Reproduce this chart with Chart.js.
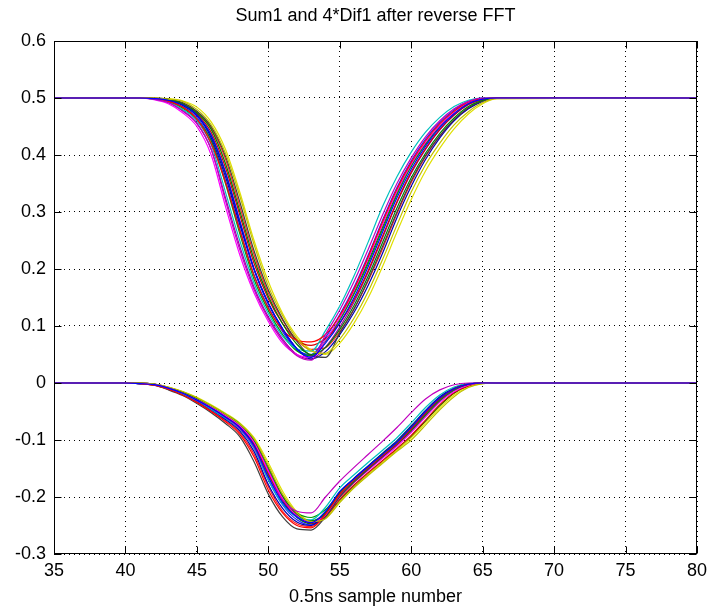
<!DOCTYPE html>
<html>
<head>
<meta charset="utf-8">
<script src="https://cdn.jsdelivr.net/npm/chart.js@4.4.0/dist/chart.umd.min.js"></script>
<style>
html, body { margin: 0; padding: 0; background: #fff; }
</style>
</head>
<body>
<canvas id="chart" width="714" height="613"></canvas>
<script>
// sample numbers the runs are given at (flat parts only need their ends)
const sampleNumbers = [35, 40, 41, 42, 43, 44, 45, 46, 47, 48, 49, 50, 51, 52, 53, 54, 55, 56, 57, 58, 59, 60, 61, 62, 63, 64, 65, 66, 80];

// Sum1 runs
const sum1_01 = [0.5, 0.5, 0.5, 0.499, 0.496, 0.488, 0.47, 0.435, 0.37, 0.285, 0.2, 0.14, 0.095, 0.06, 0.045, 0.07, 0.105, 0.15, 0.205, 0.265, 0.325, 0.375, 0.415, 0.448, 0.472, 0.49, 0.498, 0.5, 0.5];
const sum1_02 = [0.5, 0.5, 0.5, 0.498, 0.492, 0.477, 0.455, 0.41, 0.32, 0.234, 0.164, 0.113, 0.074, 0.048, 0.04, 0.085, 0.128, 0.178, 0.235, 0.295, 0.35, 0.395, 0.432, 0.46, 0.481, 0.494, 0.5, 0.5, 0.5];
const sum1_03 = [0.5, 0.5, 0.5, 0.5, 0.498, 0.494, 0.48, 0.453, 0.403, 0.328, 0.243, 0.17, 0.118, 0.078, 0.056, 0.052, 0.077, 0.114, 0.161, 0.217, 0.277, 0.335, 0.383, 0.421, 0.453, 0.476, 0.492, 0.499, 0.5];
const sum1_04 = [0.5, 0.5, 0.5, 0.499, 0.494, 0.484, 0.463, 0.42, 0.352, 0.268, 0.188, 0.131, 0.093, 0.075, 0.072, 0.085, 0.118, 0.165, 0.222, 0.283, 0.34, 0.387, 0.425, 0.455, 0.477, 0.493, 0.499, 0.5, 0.5];
const sum1_05 = [0.5, 0.5, 0.5, 0.499, 0.497, 0.49, 0.474, 0.445, 0.385, 0.302, 0.217, 0.152, 0.104, 0.068, 0.05, 0.062, 0.094, 0.136, 0.188, 0.247, 0.307, 0.36, 0.403, 0.438, 0.465, 0.485, 0.496, 0.5, 0.5];
const sum1_06 = [0.5, 0.5, 0.5, 0.498, 0.493, 0.48, 0.46, 0.418, 0.335, 0.25, 0.175, 0.122, 0.082, 0.06, 0.056, 0.092, 0.135, 0.188, 0.248, 0.31, 0.362, 0.405, 0.44, 0.466, 0.485, 0.496, 0.5, 0.5, 0.5];
const sum1_07 = [0.5, 0.5, 0.5, 0.5, 0.498, 0.492, 0.477, 0.45, 0.398, 0.318, 0.232, 0.163, 0.112, 0.073, 0.048, 0.045, 0.088, 0.13, 0.182, 0.24, 0.3, 0.355, 0.399, 0.434, 0.462, 0.483, 0.495, 0.5, 0.5];
const sum1_08 = [0.5, 0.5, 0.5, 0.497, 0.49, 0.474, 0.45, 0.4, 0.31, 0.225, 0.158, 0.108, 0.07, 0.05, 0.045, 0.075, 0.114, 0.162, 0.218, 0.278, 0.336, 0.384, 0.422, 0.452, 0.475, 0.492, 0.499, 0.5, 0.5];
const sum1_09 = [0.5, 0.5, 0.5, 0.499, 0.496, 0.488, 0.47, 0.43, 0.362, 0.278, 0.2, 0.14, 0.095, 0.06, 0.042, 0.055, 0.085, 0.124, 0.172, 0.228, 0.29, 0.345, 0.392, 0.43, 0.46, 0.481, 0.494, 0.5, 0.5];
const sum1_10 = [0.5, 0.5, 0.5, 0.499, 0.497, 0.489, 0.472, 0.44, 0.378, 0.295, 0.21, 0.148, 0.104, 0.075, 0.066, 0.078, 0.105, 0.146, 0.198, 0.258, 0.318, 0.37, 0.411, 0.445, 0.47, 0.489, 0.497, 0.5, 0.5];
const sum1_11 = [0.5, 0.5, 0.5, 0.498, 0.494, 0.482, 0.462, 0.425, 0.35, 0.262, 0.182, 0.127, 0.085, 0.056, 0.048, 0.073, 0.11, 0.156, 0.21, 0.27, 0.33, 0.38, 0.418, 0.45, 0.474, 0.491, 0.499, 0.5, 0.5];
const sum1_12 = [0.5, 0.5, 0.5, 0.5, 0.499, 0.495, 0.484, 0.458, 0.41, 0.335, 0.25, 0.178, 0.122, 0.082, 0.058, 0.05, 0.07, 0.105, 0.15, 0.205, 0.265, 0.322, 0.372, 0.412, 0.446, 0.472, 0.49, 0.499, 0.5];
const sum1_13 = [0.5, 0.5, 0.5, 0.499, 0.495, 0.485, 0.466, 0.426, 0.355, 0.27, 0.19, 0.133, 0.09, 0.058, 0.05, 0.08, 0.12, 0.168, 0.225, 0.286, 0.343, 0.39, 0.428, 0.457, 0.479, 0.494, 0.5, 0.5, 0.5];
const sum1_14 = [0.5, 0.5, 0.5, 0.498, 0.492, 0.478, 0.456, 0.41, 0.325, 0.24, 0.168, 0.116, 0.077, 0.05, 0.042, 0.063, 0.098, 0.142, 0.195, 0.255, 0.316, 0.368, 0.41, 0.444, 0.47, 0.488, 0.497, 0.5, 0.5];
const sum1_15 = [0.5, 0.5, 0.5, 0.5, 0.497, 0.491, 0.476, 0.448, 0.393, 0.31, 0.225, 0.158, 0.11, 0.075, 0.059, 0.062, 0.09, 0.13, 0.18, 0.236, 0.297, 0.352, 0.397, 0.433, 0.461, 0.482, 0.495, 0.5, 0.5];
const sum1_16 = [0.5, 0.5, 0.5, 0.499, 0.496, 0.487, 0.469, 0.434, 0.368, 0.283, 0.199, 0.139, 0.094, 0.06, 0.047, 0.075, 0.112, 0.159, 0.214, 0.274, 0.333, 0.382, 0.42, 0.452, 0.475, 0.492, 0.499, 0.5, 0.5];

// 4*Dif1 runs
const dif1_01 = [0, 0, -0.001, -0.003, -0.009, -0.018, -0.03, -0.044, -0.06, -0.078, -0.11, -0.165, -0.21, -0.235, -0.245, -0.225, -0.19, -0.168, -0.146, -0.125, -0.104, -0.078, -0.05, -0.026, -0.01, -0.002, 0, 0, 0];
const dif1_02 = [0, 0, -0.001, -0.003, -0.009, -0.018, -0.03, -0.044, -0.06, -0.08, -0.112, -0.165, -0.205, -0.225, -0.228, -0.2, -0.172, -0.148, -0.125, -0.102, -0.078, -0.052, -0.028, -0.012, -0.003, 0, 0, 0, 0];
const dif1_03 = [0, 0, 0, -0.002, -0.007, -0.015, -0.026, -0.04, -0.055, -0.072, -0.098, -0.145, -0.195, -0.228, -0.243, -0.238, -0.21, -0.184, -0.162, -0.141, -0.12, -0.1, -0.074, -0.047, -0.024, -0.008, -0.001, 0, 0];
const dif1_04 = [0, 0, -0.001, -0.004, -0.011, -0.021, -0.034, -0.05, -0.068, -0.09, -0.13, -0.188, -0.228, -0.25, -0.254, -0.23, -0.195, -0.17, -0.148, -0.127, -0.106, -0.08, -0.052, -0.027, -0.01, -0.002, 0, 0, 0];
const dif1_05 = [0, 0, 0, -0.002, -0.008, -0.016, -0.027, -0.04, -0.055, -0.072, -0.1, -0.148, -0.198, -0.23, -0.242, -0.228, -0.192, -0.168, -0.146, -0.124, -0.103, -0.077, -0.05, -0.026, -0.01, -0.002, 0, 0, 0];
const dif1_06 = [0, 0, -0.001, -0.003, -0.01, -0.019, -0.031, -0.046, -0.062, -0.081, -0.115, -0.17, -0.213, -0.235, -0.24, -0.218, -0.184, -0.161, -0.139, -0.118, -0.096, -0.07, -0.043, -0.021, -0.007, -0.001, 0, 0, 0];
const dif1_07 = [0, 0, -0.001, -0.004, -0.012, -0.022, -0.036, -0.052, -0.071, -0.094, -0.138, -0.195, -0.235, -0.256, -0.258, -0.235, -0.2, -0.174, -0.151, -0.129, -0.107, -0.082, -0.054, -0.029, -0.011, -0.002, 0, 0, 0];
const dif1_08 = [0, 0, 0, -0.002, -0.008, -0.017, -0.028, -0.042, -0.057, -0.075, -0.104, -0.155, -0.203, -0.232, -0.244, -0.232, -0.2, -0.175, -0.153, -0.132, -0.111, -0.087, -0.06, -0.034, -0.015, -0.004, 0, 0, 0];
const dif1_09 = [0, 0, -0.001, -0.003, -0.01, -0.02, -0.032, -0.047, -0.064, -0.084, -0.12, -0.178, -0.22, -0.244, -0.25, -0.228, -0.192, -0.167, -0.145, -0.123, -0.101, -0.075, -0.048, -0.024, -0.009, -0.001, 0, 0, 0];
const dif1_10 = [0, 0, 0, -0.003, -0.009, -0.017, -0.029, -0.043, -0.058, -0.076, -0.106, -0.158, -0.205, -0.233, -0.246, -0.234, -0.204, -0.179, -0.157, -0.136, -0.115, -0.092, -0.065, -0.038, -0.017, -0.005, 0, 0, 0];
const dif1_11 = [0, 0, -0.001, -0.003, -0.009, -0.018, -0.03, -0.044, -0.06, -0.078, -0.108, -0.16, -0.205, -0.228, -0.236, -0.222, -0.195, -0.172, -0.15, -0.129, -0.108, -0.084, -0.057, -0.031, -0.013, -0.003, 0, 0, 0];
const dif1_12 = [0, 0, 0, -0.002, -0.007, -0.015, -0.025, -0.038, -0.053, -0.07, -0.096, -0.14, -0.19, -0.226, -0.242, -0.236, -0.208, -0.183, -0.16, -0.139, -0.118, -0.096, -0.07, -0.043, -0.021, -0.007, -0.001, 0, 0];
const dif1_13 = [0, 0, -0.001, -0.003, -0.009, -0.019, -0.031, -0.045, -0.062, -0.08, -0.114, -0.17, -0.214, -0.24, -0.249, -0.228, -0.194, -0.171, -0.149, -0.128, -0.107, -0.081, -0.053, -0.028, -0.011, -0.002, 0, 0, 0];
const dif1_14 = [0, 0, 0, -0.002, -0.008, -0.016, -0.028, -0.041, -0.056, -0.074, -0.102, -0.152, -0.2, -0.231, -0.243, -0.23, -0.198, -0.173, -0.151, -0.13, -0.109, -0.085, -0.058, -0.032, -0.013, -0.003, 0, 0, 0];
const dif1_15 = [0, 0, -0.001, -0.004, -0.011, -0.02, -0.033, -0.049, -0.066, -0.087, -0.125, -0.182, -0.225, -0.247, -0.252, -0.232, -0.198, -0.173, -0.151, -0.13, -0.109, -0.083, -0.055, -0.03, -0.012, -0.003, 0, 0, 0];
const dif1_16 = [0, 0, 0, -0.002, -0.008, -0.017, -0.029, -0.043, -0.058, -0.077, -0.107, -0.16, -0.207, -0.236, -0.247, -0.237, -0.207, -0.182, -0.16, -0.139, -0.118, -0.094, -0.067, -0.04, -0.018, -0.005, 0, 0, 0];

const xTicks = [35, 40, 45, 50, 55, 60, 65, 70, 75, 80];
const xTickLabels = ['35', '40', '45', '50', '55', '60', '65', '70', '75', '80'];
const yTicks = [-0.3, -0.2, -0.1, 0, 0.1, 0.2, 0.3, 0.4, 0.5, 0.6];
const yTickLabels = ['-0.3', '-0.2', '-0.1', '0', '0.1', '0.2', '0.3', '0.4', '0.5', '0.6'];

const sum1Runs = [sum1_01, sum1_02, sum1_03, sum1_04, sum1_05, sum1_06, sum1_07, sum1_08,
                  sum1_09, sum1_10, sum1_11, sum1_12, sum1_13, sum1_14, sum1_15, sum1_16];
const dif1Runs = [dif1_01, dif1_02, dif1_03, dif1_04, dif1_05, dif1_06, dif1_07, dif1_08,
                  dif1_09, dif1_10, dif1_11, dif1_12, dif1_13, dif1_14, dif1_15, dif1_16];

const lineColors = ['#0000ff', '#bf00bf', '#bfbf00', '#ff0000', '#008000', '#00bfbf', '#404040', '#ff00ff',
                    '#0000b0', '#d40000', '#00a000', '#e0e000', '#2020ff', '#a000a0', '#ff2020', '#007000'];
const fontFamily = "'Liberation Sans', Arial, sans-serif";

function toPoints(values) {
    return sampleNumbers.map((x, i) => ({ x: x, y: values[i] }));
}

function runDataset(label, run, i) {
    return {
        label: label,
        data: toPoints(run),
        borderColor: lineColors[i % lineColors.length],
        borderWidth: 1.2,
        pointRadius: 0,
        cubicInterpolationMode: 'monotone',
        fill: false
    };
}

const datasets = [];
sum1Runs.forEach((run, i) => datasets.push(runDataset('Sum1 ' + (i + 1), run, i)));
dif1Runs.forEach((run, i) => datasets.push(runDataset('4*Dif1 ' + (i + 1), run, i)));

// solid axes box with short inward ticks on all four sides
const boxAndTicks = {
    id: 'boxAndTicks',
    afterDraw(chart) {
        const { ctx, chartArea: a, scales } = chart;
        const l = Math.round(a.left) + 0.5, r = Math.round(a.right) - 0.5;
        const t = Math.round(a.top) + 0.5, b = Math.round(a.bottom) - 0.5;
        const len = 7;
        ctx.save();
        ctx.strokeStyle = '#000';
        ctx.lineWidth = 1;
        ctx.setLineDash([]);
        ctx.strokeRect(l, t, r - l, b - t);
        ctx.beginPath();
        xTicks.forEach(v => {
            const px = Math.round(scales.x.getPixelForValue(v)) + 0.5;
            ctx.moveTo(px, b); ctx.lineTo(px, b - len);
            ctx.moveTo(px, t); ctx.lineTo(px, t + len);
        });
        yTicks.forEach(v => {
            const py = Math.round(scales.y.getPixelForValue(v)) + 0.5;
            ctx.moveTo(l, py); ctx.lineTo(l + len, py);
            ctx.moveTo(r, py); ctx.lineTo(r - len, py);
        });
        ctx.stroke();
        ctx.restore();
    }
};

const ctx = document.getElementById('chart').getContext('2d');
const myChart = new Chart(ctx, {
    type: 'line',
    data: { datasets: datasets },
    plugins: [boxAndTicks],
    options: {
        responsive: false,
        animation: false,
        devicePixelRatio: 1,
        layout: { padding: { left: 0, right: 17, top: 0, bottom: 0 } },
        plugins: {
            legend: { display: false },
            tooltip: { enabled: false },
            title: {
                display: true,
                fullSize: false,
                text: 'Sum1 and 4*Dif1 after reverse FFT',
                color: '#000',
                font: { size: 18, family: fontFamily, weight: 'normal' },
                padding: { top: 5, bottom: 14.4 }
            }
        },
        scales: {
            x: {
                type: 'linear',
                min: 35,
                max: 80,
                afterBuildTicks: scale => { scale.ticks = xTicks.map(v => ({ value: v })); },
                afterFit: scale => { scale.height = 59; },
                ticks: {
                    color: '#000',
                    font: { size: 18, family: fontFamily },
                    padding: 6,
                    maxRotation: 0,
                    autoSkip: false,
                    callback: (value, index) => xTickLabels[index]
                },
                grid: { color: '#000', lineWidth: 1, drawTicks: false },
                border: { display: false, dash: [1, 4] },
                title: {
                    display: true,
                    text: '0.5ns sample number',
                    color: '#000',
                    font: { size: 18, family: fontFamily },
                    padding: { top: 0, bottom: 5 }
                }
            },
            y: {
                type: 'linear',
                min: -0.3,
                max: 0.6,
                afterBuildTicks: scale => { scale.ticks = yTicks.map(v => ({ value: v })); },
                afterFit: scale => { scale.width = 54; },
                ticks: {
                    color: '#000',
                    font: { size: 18, family: fontFamily },
                    padding: 8,
                    autoSkip: false,
                    callback: (value, index) => yTickLabels[index]
                },
                grid: { color: '#000', lineWidth: 1, drawTicks: false },
                border: { display: false, dash: [1, 4] }
            }
        }
    }
});
</script>
</body>
</html>
